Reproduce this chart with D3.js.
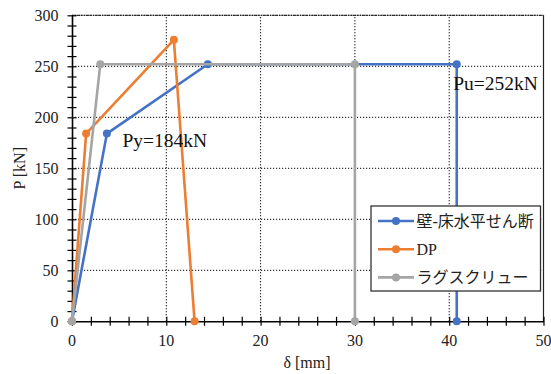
<!DOCTYPE html>
<html><head><meta charset="utf-8">
<script src="https://cdn.jsdelivr.net/npm/d3@7"></script>
<style>
body{margin:0;background:#fff}svg{display:block}
.serif{font-family:"Liberation Serif","Times New Roman","DejaVu Serif",serif}
.cjk{font-family:"Liberation Serif","Noto Sans CJK JP","DejaVu Serif",serif}
</style>
</head><body>
<svg id="c" width="551" height="374"></svg>
<script>
const seriesNames = ["壁-床水平せん断", "DP", "ラグスクリュー"];
const seriesColors = ["#4472C4", "#ED7D31", "#A5A5A5"];
const blueX = [0, 3.7, 14.4, 40.8, 40.8];
const blueY = [0, 184, 252, 252, 0];
const orangeX = [0, 1.5, 10.8, 13.0];
const orangeY = [0, 184, 276, 0];
const grayX = [0, 3.0, 30, 30];
const grayY = [0, 252, 252, 0];
const xTicks = [0, 10, 20, 30, 40, 50];
const yTicks = [0, 50, 100, 150, 200, 250, 300];
const annotations = [
  {text: "Py=184kN", x: 3.7, y: 184, dx: 15.5, dy: 13},
  {text: "Pu=252kN", x: 40.8, y: 252, dx: -3.5, dy: 26}
];

const svg = d3.select("#c");
const x = d3.scaleLinear().domain([0, 50]).range([72, 543.5]);
const y = d3.scaleLinear().domain([0, 300]).range([321.3, 15.3]);

// grid
const g = svg.append("g");
g.selectAll(".gx").data(xTicks.filter(d => d > 0)).enter().append("line")
  .attr("x1", d => x(d)).attr("x2", d => x(d)).attr("y1", y(0)).attr("y2", y(300))
  .attr("stroke", "#000").attr("stroke-width", 1).attr("stroke-dasharray", "1.2,1.8");
g.selectAll(".gy").data(yTicks.filter(d => d > 0)).enter().append("line")
  .attr("y1", d => y(d)).attr("y2", d => y(d)).attr("x1", x(0)).attr("x2", x(50))
  .attr("stroke", "#000").attr("stroke-width", 1).attr("stroke-dasharray", "1.2,1.8");
g.append("line").attr("x1", x(0)).attr("x2", x(50)).attr("y1", y(300)).attr("y2", y(300))
  .attr("stroke", "#222").attr("stroke-width", 1.3).attr("stroke-dasharray", "1.5,0.8");
g.append("line").attr("x1", x(50)).attr("x2", x(50)).attr("y1", y(300)).attr("y2", y(0))
  .attr("stroke", "#222").attr("stroke-width", 1.2);

// axes with cross ticks
const xAxis = d3.axisBottom(x).tickValues(d3.range(0, 51, 2)).tickSize(0).tickFormat("");
const ax = svg.append("g").attr("transform", `translate(0,${y(0)})`).call(xAxis);
ax.select(".domain").attr("stroke", "#000").attr("stroke-width", 1.6);
ax.selectAll(".tick line").attr("y1", -4.5).attr("y2", 4.5).attr("stroke", "#000").attr("stroke-width", 1.2);
svg.append("g").selectAll("text").data(xTicks).enter().append("text")
  .attr("class", "serif")
  .attr("x", d => x(d)).attr("y", 345.5).attr("text-anchor", "middle")
  .attr("font-size", 16).attr("fill", "#222").text(d => d);

const yAxis = d3.axisLeft(y).tickValues(d3.range(0, 301, 10)).tickSize(0).tickFormat("");
const ay = svg.append("g").attr("transform", `translate(${x(0)},0)`).call(yAxis);
ay.select(".domain").attr("stroke", "#000").attr("stroke-width", 1.6);
ay.selectAll(".tick line").attr("x1", -4.5).attr("x2", 4.5).attr("stroke", "#000").attr("stroke-width", 1.2);
svg.append("g").selectAll("text").data(yTicks).enter().append("text")
  .attr("class", "serif")
  .attr("x", 58.5).attr("y", d => y(d) + 5.5).attr("text-anchor", "end")
  .attr("font-size", 16).attr("fill", "#222").text(d => d);

// axis titles
svg.append("text").attr("class", "serif")
  .attr("transform", `translate(25,${(y(0) + y(300)) / 2}) rotate(-90)`)
  .attr("text-anchor", "middle").attr("font-size", 16).attr("fill", "#222")
  .text("P [kN]");
svg.append("text").attr("class", "serif").attr("x", 307).attr("y", 368).attr("text-anchor", "middle")
  .attr("font-size", 16).attr("fill", "#222").text("δ [mm]");

// series
const series = [
  d3.zip(blueX, blueY),
  d3.zip(orangeX, orangeY),
  d3.zip(grayX, grayY)
];
const line = d3.line().x(d => x(d[0])).y(d => y(d[1]));
series.forEach((s, i) => {
  const sg = svg.append("g");
  sg.append("path").datum(s).attr("d", line).attr("fill", "none")
    .attr("stroke", seriesColors[i]).attr("stroke-width", 2.6).attr("stroke-linejoin", "round");
  sg.selectAll("circle").data(s).enter().append("circle")
    .attr("cx", d => x(d[0])).attr("cy", d => y(d[1])).attr("r", 4)
    .attr("fill", seriesColors[i]);
});

// annotations
annotations.forEach(a => {
  svg.append("text").attr("class", "serif").attr("x", x(a.x) + a.dx).attr("y", y(a.y) + a.dy)
    .attr("font-size", 19.5).attr("fill", "#111").text(a.text);
});

// legend
const lg = svg.append("g");
lg.append("rect").attr("x", 371).attr("y", 206).attr("width", 169.5).attr("height", 85)
  .attr("fill", "#fff").attr("stroke", "#333").attr("stroke-width", 1.3);
seriesNames.forEach((n, i) => {
  const cy = 221 + i * 28.2;
  lg.append("line").attr("x1", 378).attr("x2", 414).attr("y1", cy).attr("y2", cy)
    .attr("stroke", seriesColors[i]).attr("stroke-width", 2.6);
  lg.append("circle").attr("cx", 396).attr("cy", cy).attr("r", 4).attr("fill", seriesColors[i]);
  lg.append("text").attr("class", "cjk").attr("x", 416.5).attr("y", cy + 5.5)
    .attr("font-size", 16).attr("fill", "#222").text(n);
});
</script>
</body></html>
